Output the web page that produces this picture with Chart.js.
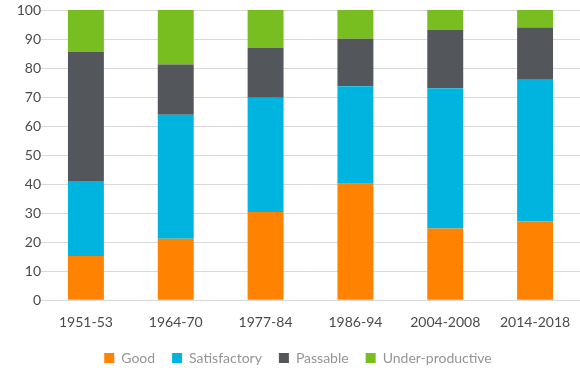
<!DOCTYPE html>
<html>
<head>
<meta charset="utf-8">
<script src="https://cdn.jsdelivr.net/npm/chart.js@4/dist/chart.umd.min.js"></script>
<style>
  html, body { margin: 0; padding: 0; background: #fff; }
  #wrap { width: 580px; height: 368px; }
</style>
</head>
<body>
<div id="wrap"><canvas id="myChart" width="580" height="368"></canvas></div>
<script>
var periods = ['1951-53', '1964-70', '1977-84', '1986-94', '2004-2008', '2014-2018'];
var good = [15.2, 21.2, 30.4, 40.1, 24.7, 27.2];
var satisfactory = [25.9, 42.7, 39.4, 33.6, 48.3, 48.8];
var passable = [44.5, 17.3, 17.1, 16.4, 20.1, 18.0];
var underProductive = [14.4, 18.8, 13.1, 9.9, 6.9, 6.0];
var yTicks = [0, 10, 20, 30, 40, 50, 60, 70, 80, 90, 100];

var axisColor = '#4a4a4a';
var legendColor = '#959595';
var gridColor = '#d9d9d9';
var font = { family: 'Lato', size: 14 };

function bar(label, data, color) {
    return {
        label: label,
        data: data,
        backgroundColor: color,
        borderWidth: 0,
        barPercentage: 0.4,
        categoryPercentage: 1.0
    };
}

var chartData = {
    labels: periods,
    datasets: [
        bar('Good', good, '#ff8200'),
        bar('Satisfactory', satisfactory, '#00b4e0'),
        bar('Passable', passable, '#53565a'),
        bar('Under-productive', underProductive, '#78be21')
    ]
};

var config = {
    type: 'bar',
    data: chartData,
    options: {
        responsive: false,
        animation: false,
        layout: { padding: { top: 10, right: 0, left: 16, bottom: -7 } },
        plugins: {
            tooltip: { enabled: false },
            legend: {
                position: 'bottom',
                labels: {
                    color: legendColor,
                    font: font,
                    boxWidth: 10,
                    boxHeight: 10,
                    padding: 17
                }
            }
        },
        scales: {
            x: {
                stacked: true,
                grid: { display: false },
                border: { display: true, color: gridColor },
                ticks: { color: axisColor, font: font, padding: 6, maxRotation: 0 },
                afterFit: function (axis) {
                    axis.height -= 3;
                }
            },
            y: {
                stacked: true,
                min: 0,
                max: 100,
                afterBuildTicks: function (axis) {
                    axis.ticks = yTicks.map(function (v) { return { value: v }; });
                },
                afterFit: function (axis) {
                    axis.paddingTop = 0;
                    axis.width = 25;
                },
                grid: { color: gridColor, drawTicks: false },
                border: { display: false },
                ticks: { color: axisColor, font: font, padding: 0 }
            }
        }
    }
};

var ctx = document.getElementById('myChart').getContext('2d');
var myChart = new Chart(ctx, config);
</script>
</body>
</html>
